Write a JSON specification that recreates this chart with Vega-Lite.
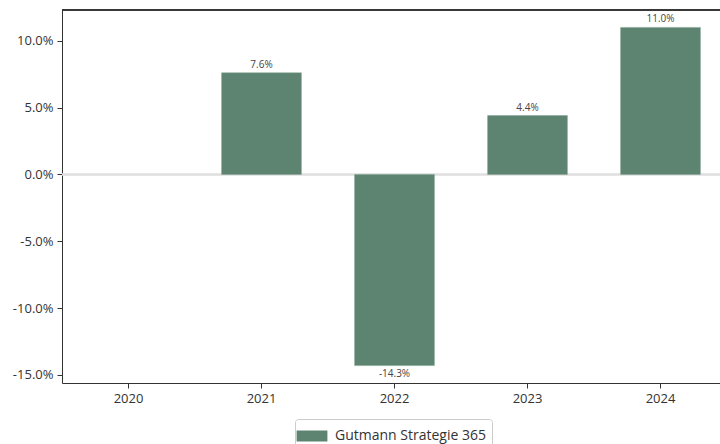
{
  "$schema": "https://vega.github.io/schema/vega-lite/v6.json",
  "autosize": {"type": "none"},
  "padding": {"left": 62, "top": 10, "right": 0, "bottom": 61},
  "width": 665,
  "height": 373,
  "config": {
    "locale": {"number": {"decimal": ".", "thousands": ",", "grouping": [3], "currency": ["", "%"], "minus": "-"}},
    "font": "Open Sans",
    "view": {"stroke": null}
  },
  "data": {
    "values": [
      {"year": "2020", "value": null, "series": "Gutmann Strategie 365"},
      {"year": "2021", "value": 0.076, "series": "Gutmann Strategie 365"},
      {"year": "2022", "value": -0.143, "series": "Gutmann Strategie 365"},
      {"year": "2023", "value": 0.044, "series": "Gutmann Strategie 365"},
      {"year": "2024", "value": 0.110, "series": "Gutmann Strategie 365"}
    ]
  },
  "encoding": {
    "x": {
      "field": "year", "type": "ordinal",
      "scale": {"domain": ["2020", "2021", "2022", "2023", "2024"], "paddingInner": 0.4, "paddingOuter": 0.2},
      "axis": {"title": null, "labelAngle": 0, "labelFontSize": 13, "labelColor": "#333", "domainColor": "#333", "tickColor": "#333", "tickSize": 5, "labelPadding": 4, "grid": false}
    }
  },
  "layer": [
    {
      "mark": {"type": "rule", "color": "#333", "strokeWidth": 1},
      "encoding": {"y": {"datum": 0.123}, "x": {"value": 0}, "x2": {"value": 665}}
    },
    {
      "mark": {"type": "rule", "color": "#e0e0e0", "strokeWidth": 1.5},
      "encoding": {"y": {"datum": 0}, "x": {"value": 0}, "x2": {"value": 665}}
    },
    {
      "transform": [{"filter": "datum.value != null"}],
      "mark": {"type": "bar", "stroke": "#7fa091", "strokeWidth": 0.5},
      "encoding": {
        "y": {
          "field": "value", "type": "quantitative",
          "scale": {"domain": [-0.156, 0.123], "nice": false, "zero": false},
          "axis": {"title": null, "format": ".1%", "values": [-0.15, -0.1, -0.05, 0, 0.05, 0.1], "grid": false, "labelFontSize": 13, "labelColor": "#333", "domainColor": "#333", "tickColor": "#333", "tickSize": 5, "labelPadding": 4}
        },
        "color": {
          "field": "series", "type": "nominal",
          "scale": {"range": ["#5c8470"]},
          "legend": {"title": null, "orient": "none", "legendX": 233, "legendY": 409, "direction": "horizontal", "labelFontSize": 14, "labelColor": "#333", "symbolType": "M-1.4,-0.5H1.4V0.5H-1.4Z", "symbolSize": 484, "symbolStrokeWidth": 0, "strokeColor": "#cccccc", "cornerRadius": 3, "padding": 6, "labelOffset": 12}
        }
      }
    },
    {
      "transform": [{"filter": "datum.value != null && datum.value >= 0"}],
      "mark": {"type": "text", "fontSize": 10, "color": "#444", "baseline": "bottom", "dy": -3},
      "encoding": {
        "y": {"field": "value", "type": "quantitative"},
        "text": {"field": "value", "type": "quantitative", "format": ".1%"}
      }
    },
    {
      "transform": [{"filter": "datum.value != null && datum.value < 0"}],
      "mark": {"type": "text", "fontSize": 10, "color": "#444", "baseline": "top", "dy": 3},
      "encoding": {
        "y": {"field": "value", "type": "quantitative"},
        "text": {"field": "value", "type": "quantitative", "format": ".1%"}
      }
    }
  ]
}
